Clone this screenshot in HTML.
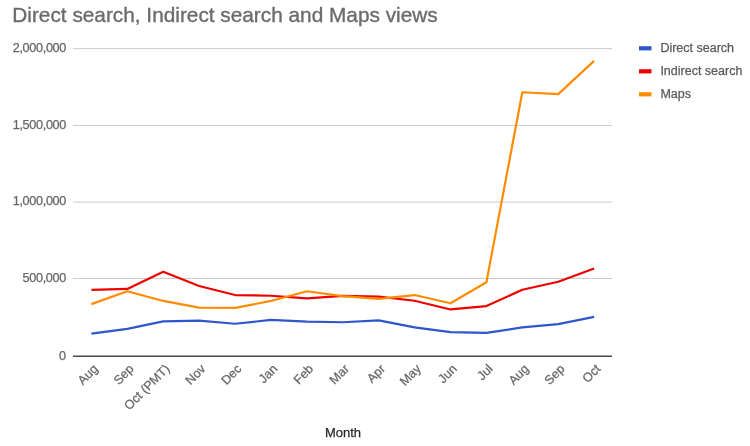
<!DOCTYPE html>
<html><head><meta charset="utf-8"><title>Direct search, Indirect search and Maps views</title>
<style>html,body{margin:0;padding:0;background:#fff;}svg{display:block;}text{font-family:"Liberation Sans", Arial, sans-serif;}</style></head>
<body><svg width="750" height="446" viewBox="0 0 750 446">
<rect width="750" height="446" fill="#ffffff"/>
<text x="12.3" y="21.5" font-size="20.8" fill="#6b6b6b" stroke="#6b6b6b" stroke-width="0.35" letter-spacing="0">Direct search, Indirect search and Maps views</text>
<line x1="73" x2="612" y1="48.6" y2="48.6" stroke="#cccccc" stroke-width="1"/>
<text x="66" y="51.90" text-anchor="end" font-size="12.6" letter-spacing="-0.3" fill="#666666" stroke="#666666" stroke-width="0.25">2,000,000</text>
<line x1="73" x2="612" y1="125.5" y2="125.5" stroke="#cccccc" stroke-width="1"/>
<text x="66" y="128.80" text-anchor="end" font-size="12.6" letter-spacing="-0.3" fill="#666666" stroke="#666666" stroke-width="0.25">1,500,000</text>
<line x1="73" x2="612" y1="202.1" y2="202.1" stroke="#cccccc" stroke-width="1"/>
<text x="66" y="205.40" text-anchor="end" font-size="12.6" letter-spacing="-0.3" fill="#666666" stroke="#666666" stroke-width="0.25">1,000,000</text>
<line x1="73" x2="612" y1="278.5" y2="278.5" stroke="#cccccc" stroke-width="1"/>
<text x="66" y="281.80" text-anchor="end" font-size="12.6" letter-spacing="-0.3" fill="#666666" stroke="#666666" stroke-width="0.25">500,000</text>
<text x="66" y="359.50" text-anchor="end" font-size="12.6" fill="#666666" stroke="#666666" stroke-width="0.25">0</text>
<polyline points="91.40,333.65 127.31,328.95 163.22,321.35 199.13,320.55 235.04,323.75 270.95,319.95 306.86,321.65 342.77,322.25 378.68,320.35 414.59,327.35 450.50,332.15 486.41,332.95 522.32,327.45 558.23,324.05 594.14,316.85" fill="none" stroke="#3056cc" stroke-width="2.2" stroke-linejoin="round" stroke-linecap="butt"/>
<polyline points="91.40,289.85 127.31,288.95 163.22,271.75 199.13,286.05 235.04,295.05 270.95,295.75 306.86,298.45 342.77,295.95 378.68,296.55 414.59,300.75 450.50,309.45 486.41,306.05 522.32,289.75 558.23,281.75 594.14,268.45" fill="none" stroke="#ee0000" stroke-width="2.2" stroke-linejoin="round" stroke-linecap="butt"/>
<polyline points="91.40,304.15 127.31,291.25 163.22,300.95 199.13,307.55 235.04,307.95 270.95,300.95 306.86,291.25 342.77,296.15 378.68,298.85 414.59,295.05 450.50,303.25 486.41,282.25 522.32,92.25 558.23,94.15 594.14,60.90" fill="none" stroke="#ff8c00" stroke-width="2.2" stroke-linejoin="round" stroke-linecap="butt"/>
<line x1="73" x2="612" y1="356.2" y2="356.2" stroke="#4a4a4a" stroke-width="1.6"/>
<text x="98.60" y="369.6" text-anchor="end" transform="rotate(-45 98.60 369.6)" font-size="12.6" fill="#666666" stroke="#666666" stroke-width="0.25">Aug</text>
<text x="134.51" y="369.6" text-anchor="end" transform="rotate(-45 134.51 369.6)" font-size="12.6" fill="#666666" stroke="#666666" stroke-width="0.25">Sep</text>
<text x="170.42" y="369.6" text-anchor="end" transform="rotate(-45 170.42 369.6)" font-size="12.6" fill="#666666" stroke="#666666" stroke-width="0.25">Oct (PMT)</text>
<text x="206.33" y="369.6" text-anchor="end" transform="rotate(-45 206.33 369.6)" font-size="12.6" fill="#666666" stroke="#666666" stroke-width="0.25">Nov</text>
<text x="242.24" y="369.6" text-anchor="end" transform="rotate(-45 242.24 369.6)" font-size="12.6" fill="#666666" stroke="#666666" stroke-width="0.25">Dec</text>
<text x="278.15" y="369.6" text-anchor="end" transform="rotate(-45 278.15 369.6)" font-size="12.6" fill="#666666" stroke="#666666" stroke-width="0.25">Jan</text>
<text x="314.06" y="369.6" text-anchor="end" transform="rotate(-45 314.06 369.6)" font-size="12.6" fill="#666666" stroke="#666666" stroke-width="0.25">Feb</text>
<text x="349.97" y="369.6" text-anchor="end" transform="rotate(-45 349.97 369.6)" font-size="12.6" fill="#666666" stroke="#666666" stroke-width="0.25">Mar</text>
<text x="385.88" y="369.6" text-anchor="end" transform="rotate(-45 385.88 369.6)" font-size="12.6" fill="#666666" stroke="#666666" stroke-width="0.25">Apr</text>
<text x="421.79" y="369.6" text-anchor="end" transform="rotate(-45 421.79 369.6)" font-size="12.6" fill="#666666" stroke="#666666" stroke-width="0.25">May</text>
<text x="457.70" y="369.6" text-anchor="end" transform="rotate(-45 457.70 369.6)" font-size="12.6" fill="#666666" stroke="#666666" stroke-width="0.25">Jun</text>
<text x="493.61" y="369.6" text-anchor="end" transform="rotate(-45 493.61 369.6)" font-size="12.6" fill="#666666" stroke="#666666" stroke-width="0.25">Jul</text>
<text x="529.52" y="369.6" text-anchor="end" transform="rotate(-45 529.52 369.6)" font-size="12.6" fill="#666666" stroke="#666666" stroke-width="0.25">Aug</text>
<text x="565.43" y="369.6" text-anchor="end" transform="rotate(-45 565.43 369.6)" font-size="12.6" fill="#666666" stroke="#666666" stroke-width="0.25">Sep</text>
<text x="601.34" y="369.6" text-anchor="end" transform="rotate(-45 601.34 369.6)" font-size="12.6" fill="#666666" stroke="#666666" stroke-width="0.25">Oct</text>
<text x="343" y="436.6" text-anchor="middle" font-size="13" fill="#2a2a2a" stroke="#2a2a2a" stroke-width="0.25">Month</text>
<rect x="639" y="46.20" width="12.5" height="4.2" fill="#3056cc"/>
<text x="660.4" y="52.20" font-size="12.5" fill="#5a5a5a" stroke="#5a5a5a" stroke-width="0.25">Direct search</text>
<rect x="639" y="69.20" width="12.5" height="4.2" fill="#ee0000"/>
<text x="660.4" y="75.20" font-size="12.5" fill="#5a5a5a" stroke="#5a5a5a" stroke-width="0.25">Indirect search</text>
<rect x="639" y="92.20" width="12.5" height="4.2" fill="#ff8c00"/>
<text x="660.4" y="98.20" font-size="12.5" fill="#5a5a5a" stroke="#5a5a5a" stroke-width="0.25">Maps</text>
</svg></body></html>
